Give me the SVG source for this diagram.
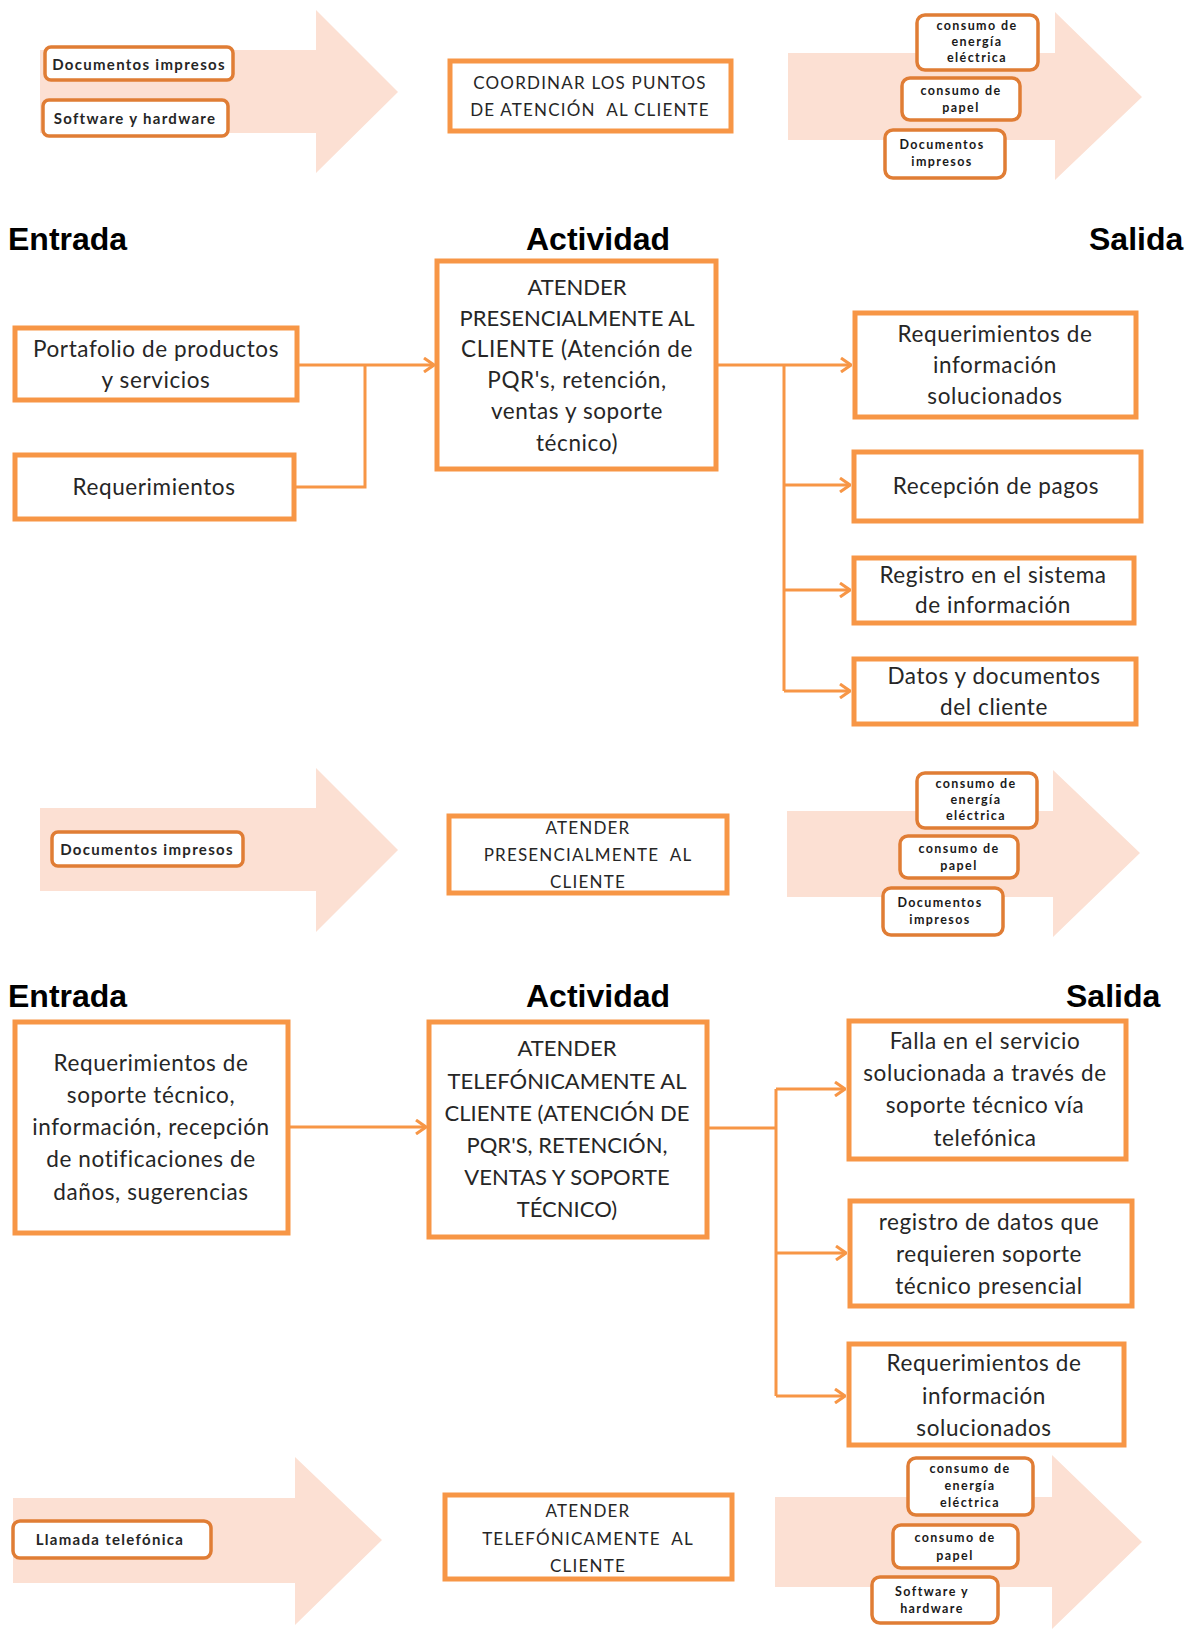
<svg xmlns="http://www.w3.org/2000/svg" width="1198" height="1629" viewBox="0 0 1198 1629">
<defs>
<style>
.bg{fill:#fff}
.flow{fill:#FCE0D3}
.box{fill:#fff;stroke:#F79646;stroke-width:5}
.sbox{fill:#fff;stroke:#E07D35;stroke-width:3.5}
.t{font-family:Lato,"Open Sans",sans-serif;font-size:22.5px;fill:#262626;text-anchor:middle;dominant-baseline:central;letter-spacing:0.6px}
.tu{font-family:Lato,"Open Sans",sans-serif;font-size:22px;fill:#262626;text-anchor:middle;dominant-baseline:central}
.tc{font-family:Lato,"Open Sans",sans-serif;font-size:17px;fill:#262626;text-anchor:middle;dominant-baseline:central;letter-spacing:1.2px}
.ts{font-family:Lato,"Open Sans",sans-serif;font-size:15px;font-weight:bold;fill:#262626;text-anchor:middle;dominant-baseline:central;letter-spacing:1.3px}
.tx{font-family:Lato,"Open Sans",sans-serif;font-size:12.5px;font-weight:bold;fill:#1a1a1a;text-anchor:middle;dominant-baseline:central;letter-spacing:1.4px}
.h{font-family:"Liberation Sans",Arial,sans-serif;font-size:32px;font-weight:bold;fill:#000}
.c{fill:none;stroke:#F79646;stroke-width:3}
</style>
<marker id="ah" viewBox="0 0 12 16" refX="11" refY="8" markerWidth="12" markerHeight="16" markerUnits="userSpaceOnUse" orient="auto">
<path d="M1,1 L11,8 L1,15" fill="none" stroke="#F79646" stroke-width="3"/>
</marker>
</defs>
<rect class="bg" x="0" y="0" width="1198" height="1629"/>

<!-- Section 1 -->
<g id="flow1-in">
<path class="flow" d="M40,50 H316 V10 L398,92 L316,173 V133 H40 Z"/>
</g>
<g id="n1-docs"><rect class="sbox" x="45" y="47" width="188" height="33" rx="6"/><text class="ts" x="139" y="63.5">Documentos impresos</text></g>
<g id="n1-soft"><rect class="sbox" x="43" y="100" width="185" height="36" rx="6"/><text class="ts" x="135" y="118">Software y hardware</text></g>
<g id="n1-act"><rect class="box" x="450" y="61" width="281" height="70"/><text class="tc" x="590" y="82">COORDINAR LOS PUNTOS</text><text class="tc" x="590" y="109" xml:space="preserve">DE ATENCIÓN  AL CLIENTE</text></g>
<g id="flow1-out">
<path class="flow" d="M788,53 H1055 V12 L1142,97 L1055,180 V140 H788 Z"/>
</g>
<g id="n1-energia"><rect class="sbox" x="917" y="15" width="121" height="55" rx="8"/><text class="tx" x="977" y="25">consumo de</text><text class="tx" x="977" y="41">energía</text><text class="tx" x="977" y="57">eléctrica</text></g>
<g id="n1-papel"><rect class="sbox" x="902" y="78" width="118" height="42" rx="8"/><text class="tx" x="961" y="90">consumo de</text><text class="tx" x="961" y="107">papel</text></g>
<g id="n1-docs-out"><rect class="sbox" x="885" y="130" width="120" height="48" rx="8"/><text class="tx" x="942" y="144">Documentos</text><text class="tx" x="942" y="161">impresos</text></g>

<!-- Headings 1 -->
<text class="h" x="8" y="250">Entrada</text>
<text class="h" x="526" y="250">Actividad</text>
<text class="h" x="1089" y="250">Salida</text>

<!-- Connectors -->
<g id="connectors">
<line class="c" x1="298" y1="365" x2="434" y2="365" marker-end="url(#ah)"/>
<polyline class="c" points="295,487 365,487 365,365"/>
<line class="c" x1="718" y1="365" x2="851" y2="365" marker-end="url(#ah)"/>
<line class="c" x1="784" y1="365" x2="784" y2="691"/>
<line class="c" x1="784" y1="485" x2="850" y2="485" marker-end="url(#ah)"/>
<line class="c" x1="784" y1="590" x2="850" y2="590" marker-end="url(#ah)"/>
<line class="c" x1="784" y1="691" x2="850" y2="691" marker-end="url(#ah)"/>
<line class="c" x1="289" y1="1127" x2="426" y2="1127" marker-end="url(#ah)"/>
<line class="c" x1="708" y1="1128" x2="776" y2="1128"/>
<line class="c" x1="776" y1="1089" x2="776" y2="1396"/>
<line class="c" x1="776" y1="1089" x2="845" y2="1089" marker-end="url(#ah)"/>
<line class="c" x1="776" y1="1253" x2="846" y2="1253" marker-end="url(#ah)"/>
<line class="c" x1="776" y1="1396" x2="845" y2="1396" marker-end="url(#ah)"/>
</g>

<!-- Section 2 -->
<g id="n2-portafolio"><rect class="box" x="15" y="328" width="282" height="72"/><text class="t" x="156" y="348">Portafolio de productos</text><text class="t" x="156" y="379">y servicios</text></g>
<g id="n2-req"><rect class="box" x="15" y="455" width="279" height="64"/><text class="t" x="154" y="486">Requerimientos</text></g>
<g id="n2-act"><rect class="box" x="437" y="261" width="279" height="208"/>
<text class="tu" x="577" y="286">ATENDER</text>
<text class="tu" x="577" y="317">PRESENCIALMENTE AL</text>
<text class="t" x="577" y="348">CLIENTE (Atención de</text>
<text class="t" x="577" y="379">PQR's, retención,</text>
<text class="t" x="577" y="410">ventas y soporte</text>
<text class="t" x="577" y="442">técnico)</text></g>
<g id="n2-o1"><rect class="box" x="855" y="313" width="281" height="104"/><text class="t" x="995" y="333">Requerimientos de</text><text class="t" x="995" y="364">información</text><text class="t" x="995" y="395">solucionados</text></g>
<g id="n2-o2"><rect class="box" x="854" y="452" width="287" height="69"/><text class="t" x="996" y="485">Recepción de pagos</text></g>
<g id="n2-o3"><rect class="box" x="854" y="558" width="280" height="65"/><text class="t" x="993" y="574">Registro en el sistema</text><text class="t" x="993" y="604">de información</text></g>
<g id="n2-o4"><rect class="box" x="854" y="659" width="282" height="65"/><text class="t" x="994" y="675">Datos y documentos</text><text class="t" x="994" y="706">del cliente</text></g>

<!-- Section 3 -->
<g id="flow3-in">
<path class="flow" d="M40,808 H316 V768 L398,850 L316,932 V891 H40 Z"/>
</g>
<g id="n3-docs"><rect class="sbox" x="52" y="832" width="191" height="34" rx="6"/><text class="ts" x="147" y="849">Documentos impresos</text></g>
<g id="n3-act"><rect class="box" x="449" y="816" width="278" height="77"/><text class="tc" x="588" y="827">ATENDER</text><text class="tc" x="588" y="854" xml:space="preserve">PRESENCIALMENTE  AL</text><text class="tc" x="588" y="881">CLIENTE</text></g>
<g id="flow3-out">
<path class="flow" d="M787,811 H1053 V770 L1140,853 L1053,937 V897 H787 Z"/>
</g>
<g id="n3-energia"><rect class="sbox" x="917" y="773" width="120" height="55" rx="8"/><text class="tx" x="976" y="783">consumo de</text><text class="tx" x="976" y="799">energía</text><text class="tx" x="976" y="815">eléctrica</text></g>
<g id="n3-papel"><rect class="sbox" x="900" y="836" width="118" height="42" rx="8"/><text class="tx" x="959" y="848">consumo de</text><text class="tx" x="959" y="865">papel</text></g>
<g id="n3-docs-out"><rect class="sbox" x="883" y="888" width="120" height="47" rx="8"/><text class="tx" x="940" y="902">Documentos</text><text class="tx" x="940" y="919">impresos</text></g>

<!-- Headings 2 -->
<text class="h" x="8" y="1007">Entrada</text>
<text class="h" x="526" y="1007">Actividad</text>
<text class="h" x="1066" y="1007">Salida</text>

<!-- Section 4 -->
<g id="n4-in"><rect class="box" x="15" y="1022" width="273" height="211"/>
<text class="t" x="151" y="1062">Requerimientos de</text>
<text class="t" x="151" y="1094">soporte técnico,</text>
<text class="t" x="151" y="1126">información, recepción</text>
<text class="t" x="151" y="1158">de notificaciones de</text>
<text class="t" x="151" y="1191">daños, sugerencias</text></g>
<g id="n4-act"><rect class="box" x="429" y="1022" width="278" height="215"/>
<text class="tu" x="567" y="1047">ATENDER</text>
<text class="tu" x="567" y="1080">TELEFÓNICAMENTE AL</text>
<text class="tu" x="567" y="1112">CLIENTE (ATENCIÓN DE</text>
<text class="tu" x="567" y="1144">PQR'S, RETENCIÓN,</text>
<text class="tu" x="567" y="1176">VENTAS Y SOPORTE</text>
<text class="tu" x="567" y="1208">TÉCNICO)</text></g>
<g id="n4-o1"><rect class="box" x="849" y="1021" width="277" height="138"/>
<text class="t" x="985" y="1040">Falla en el servicio</text>
<text class="t" x="985" y="1072">solucionada a través de</text>
<text class="t" x="985" y="1104">soporte técnico vía</text>
<text class="t" x="985" y="1137">telefónica</text></g>
<g id="n4-o2"><rect class="box" x="850" y="1201" width="282" height="105"/>
<text class="t" x="989" y="1221">registro de datos que</text>
<text class="t" x="989" y="1253">requieren soporte</text>
<text class="t" x="989" y="1285">técnico presencial</text></g>
<g id="n4-o3"><rect class="box" x="849" y="1344" width="275" height="101"/>
<text class="t" x="984" y="1362">Requerimientos de</text>
<text class="t" x="984" y="1395">información</text>
<text class="t" x="984" y="1427">solucionados</text></g>

<!-- Section 5 -->
<g id="flow5-in">
<path class="flow" d="M13,1498 H295 V1457 L382,1540 L295,1625 V1583 H13 Z"/>
</g>
<g id="n5-llamada"><rect class="sbox" x="13" y="1521" width="198" height="37" rx="7"/><text class="ts" x="110" y="1539">Llamada telefónica</text></g>
<g id="n5-act"><rect class="box" x="445" y="1495" width="287" height="84"/><text class="tc" x="588" y="1510">ATENDER</text><text class="tc" x="588" y="1538" xml:space="preserve">TELEFÓNICAMENTE  AL</text><text class="tc" x="588" y="1565">CLIENTE</text></g>
<g id="flow5-out">
<path class="flow" d="M775,1497 H1052 V1455 L1142,1542 L1052,1629 V1587 H775 Z"/>
</g>
<g id="n5-energia"><rect class="sbox" x="908" y="1458" width="125" height="57" rx="8"/><text class="tx" x="970" y="1468">consumo de</text><text class="tx" x="970" y="1485">energía</text><text class="tx" x="970" y="1502">eléctrica</text></g>
<g id="n5-papel"><rect class="sbox" x="893" y="1525" width="125" height="43" rx="8"/><text class="tx" x="955" y="1537">consumo de</text><text class="tx" x="955" y="1555">papel</text></g>
<g id="n5-soft"><rect class="sbox" x="872" y="1577" width="126" height="46" rx="8"/><text class="tx" x="932" y="1591">Software y</text><text class="tx" x="932" y="1608">hardware</text></g>
</svg>
